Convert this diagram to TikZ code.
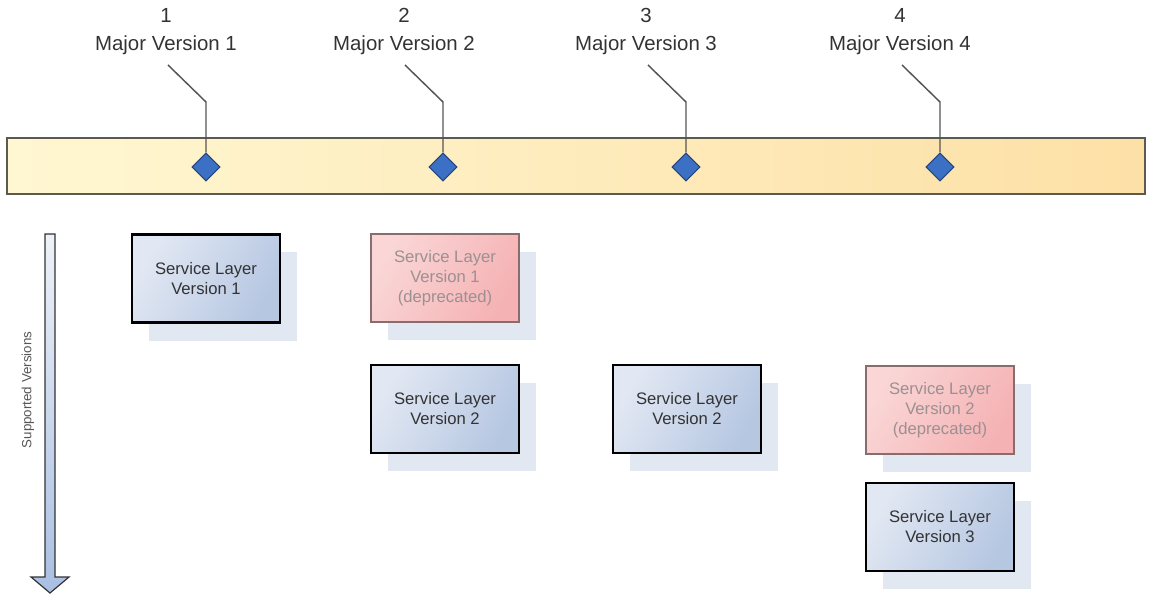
\documentclass[tikz,border=0pt]{standalone}
\usepackage{fontspec}
\setmainfont{Liberation Sans}
\usetikzlibrary{shapes.geometric,shadows}
\definecolor{barL}{HTML}{FFF7D2}
\definecolor{barR}{HTML}{FDE0A6}
\definecolor{barEdge}{HTML}{5A5A50}
\definecolor{dia}{HTML}{3B70C4}
\definecolor{diaEdge}{HTML}{26467A}
\definecolor{lead}{HTML}{555555}
\definecolor{txt}{HTML}{333333}
\definecolor{blueA}{HTML}{E2E8F3}
\definecolor{blueB}{HTML}{B6C7E2}
\definecolor{pinkA}{HTML}{FAD6D6}
\definecolor{pinkB}{HTML}{F5B2B4}
\definecolor{pinkEdge}{HTML}{8A6C6C}
\definecolor{deptxt}{HTML}{9C9092}
\definecolor{shad}{HTML}{E2E8F2}
\definecolor{arrA}{HTML}{EEF2F8}
\definecolor{arrB}{HTML}{A9BFE2}
\begin{document}
\begin{tikzpicture}[x=0.75pt,y=-0.75pt,
  bar/.style={draw=barEdge,line width=1.1pt,left color=barL,right color=barR,
    minimum width=853.5pt,minimum height=42pt,inner sep=0pt},
  milestone/.style={diamond,draw=diaEdge,line width=0.8pt,fill=dia,
    minimum width=21pt,minimum height=21pt,inner sep=0pt},
  leader/.style={draw=lead,line width=1.1pt},
  label/.style={align=center,text=txt,font=\fontsize{15.3}{20.5}\selectfont},
  svc/.style={rectangle,draw=black,line width=2.2pt,left color=blueA,right color=blueB,
    shading angle=60,minimum width=111pt,minimum height=66pt,inner sep=2pt,
    align=center,text=txt,font=\fontsize{12.5}{15}\selectfont,
    drop shadow={shadow xshift=12.75pt,shadow yshift=-13.5pt,fill=shad,opacity=1,draw=none}},
  dep/.style={svc,draw=pinkEdge,line width=1.5pt,left color=pinkA,right color=pinkB,
    shading angle=60,text=deptxt}
]
\useasboundingbox (0,0) rectangle (1149,595);

% timeline bar
\node[bar] (bar) at (576,166) {};

% milestones
\foreach \i/\x/\lx in {1/206/166,2/443/404,3/686/646,4/940/900}{
  \node[milestone] (d\i) at (\x,167) {};
  \coordinate (k\i) at (\x,102);
  \coordinate (e\i) at (\x-38,65);
  \draw[leader] (d\i.north) -- (k\i) -- (e\i);
  \node[label,anchor=south] (l\i) at (\lx,59) {\i\\Major Version \i};
}

% supported versions arrow
\shade[top color=arrA,bottom color=arrB,draw=txt,line width=0.9pt]
  (45,234) -- (55,234) -- (55,577) -- (69,577) -- (50,593) -- (31,577) -- (45,577) -- cycle;
\node[rotate=90,text=lead,font=\fontsize{10}{12}\selectfont] (sv) at (28,390) {Supported Versions};

% service layer boxes
\node[svc] (s1) at (206,278.5) {Service Layer\\Version 1};
\node[dep] (s1d) at (445,278) {Service Layer\\Version 1\\(deprecated)};
\node[svc] (s2a) at (445,409) {Service Layer\\Version 2};
\node[svc] (s2b) at (687,409) {Service Layer\\Version 2};
\node[dep] (s2d) at (940,410) {Service Layer\\Version 2\\(deprecated)};
\node[svc] (s3) at (940,527) {Service Layer\\Version 3};
\end{tikzpicture}
\end{document}
